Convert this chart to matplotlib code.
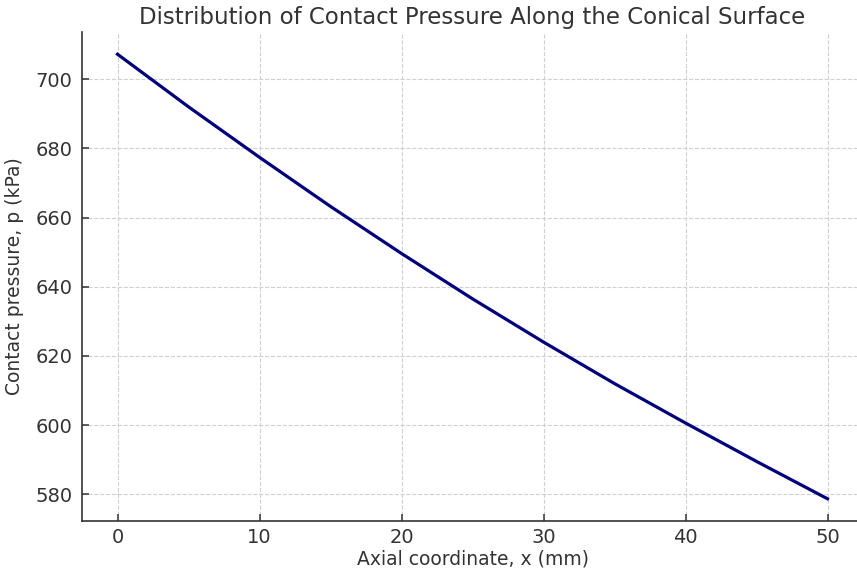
import matplotlib
matplotlib.use("Agg")
import matplotlib.pyplot as plt

# values
x_mm = [0, 5, 10, 15, 20, 25, 30, 35, 40, 45, 50]
p_kpa = [707.2, 692.0, 677.4, 663.2, 649.6, 636.5, 624.0, 612.0, 600.6, 589.5, 578.7]

title = "Distribution of Contact Pressure Along the Conical Surface"
xlabel = "Axial coordinate, x (mm)"
ylabel = "Contact pressure, p (kPa)"

txt = "#333333"

fig = plt.figure(figsize=(8.57, 5.71), dpi=100)
ax = fig.add_axes([82 / 857, 1 - 521 / 571, 781 / 857, (521 - 32) / 571])

ax.plot(x_mm, p_kpa, color="#000080", linewidth=2.3)

ax.set_xlim(-2.5, 52.5)
ax.set_title(title, fontsize=16.5, color=txt, pad=6)
ax.set_xlabel(xlabel, fontsize=13.5, color=txt, labelpad=2)
ax.set_ylabel(ylabel, fontsize=13.5, color=txt, labelpad=8)

ax.grid(True, linestyle="--", color="#d0d0d0", linewidth=0.8)
ax.set_axisbelow(True)
for side in ["top", "right"]:
    ax.spines[side].set_visible(False)
for side in ["left", "bottom"]:
    ax.spines[side].set_color(txt)
    ax.spines[side].set_linewidth(1.2)
ax.tick_params(axis="both", direction="in", labelsize=14, colors=txt,
               length=5, width=1.1)
ax.tick_params(axis="x", pad=5)
ax.tick_params(axis="y", pad=7)

fig.savefig("out.png", dpi=100)
